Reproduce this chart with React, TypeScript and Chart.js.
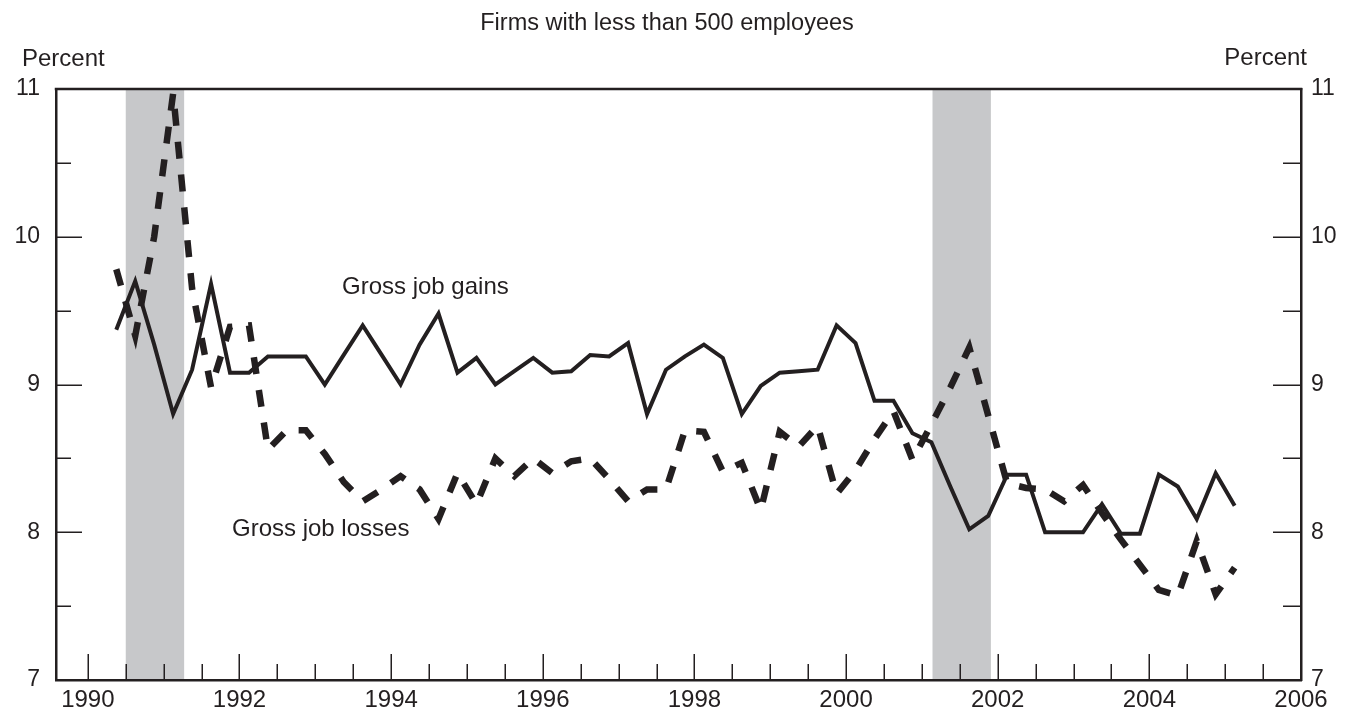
import React, { useEffect, useRef } from 'react';
import { Chart, registerables } from 'chart.js';

Chart.register(...registerables);

// ---------- data ----------
const quarters: string[] = [
  '1990Q2', '1990Q3', '1990Q4',
  '1991Q1', '1991Q2', '1991Q3', '1991Q4',
  '1992Q1', '1992Q2', '1992Q3', '1992Q4',
  '1993Q1', '1993Q2', '1993Q3', '1993Q4',
  '1994Q1', '1994Q2', '1994Q3', '1994Q4',
  '1995Q1', '1995Q2', '1995Q3', '1995Q4',
  '1996Q1', '1996Q2', '1996Q3', '1996Q4',
  '1997Q1', '1997Q2', '1997Q3', '1997Q4',
  '1998Q1', '1998Q2', '1998Q3', '1998Q4',
  '1999Q1', '1999Q2', '1999Q3', '1999Q4',
  '2000Q1', '2000Q2', '2000Q3', '2000Q4',
  '2001Q1', '2001Q2', '2001Q3', '2001Q4',
  '2002Q1', '2002Q2', '2002Q3', '2002Q4',
  '2003Q1', '2003Q2', '2003Q3', '2003Q4',
  '2004Q1', '2004Q2', '2004Q3', '2004Q4',
  '2005Q1',
];

const grossJobGains: number[] = [
  9.37, 9.70, 9.27,
  8.80, 9.10, 9.68, 9.08,
  9.08, 9.19, 9.19, 9.19,
  9.00, 9.20, 9.40, 9.20,
  9.00, 9.27, 9.48, 9.08,
  9.18, 9.00, 9.09, 9.18,
  9.08, 9.09, 9.20, 9.19,
  9.28, 8.80, 9.10, 9.19,
  9.27, 9.18, 8.80, 8.99,
  9.08, 9.09, 9.10, 9.40,
  9.28, 8.89, 8.89, 8.67,
  8.61, 8.31, 8.02, 8.11,
  8.39, 8.39, 8.00, 8.00,
  8.00, 8.19, 7.99, 7.99,
  8.39, 8.31, 8.09, 8.40,
  8.18,
];

const grossJobLosses: number[] = [
  9.78, 9.33, 10.00,
  10.97, 9.65, 8.98, 9.39,
  9.40, 8.56, 8.69, 8.69,
  8.53, 8.34, 8.21, 8.29,
  8.38, 8.29, 8.09, 8.40,
  8.19, 8.50, 8.38, 8.50,
  8.40, 8.48, 8.50, 8.36,
  8.21, 8.29, 8.29, 8.69,
  8.68, 8.41, 8.47, 8.15,
  8.68, 8.58, 8.72, 8.26,
  8.42, 8.63, 8.82, 8.49,
  8.73, 8.98, 9.25, 8.79,
  8.33, 8.30, 8.29, 8.21,
  8.32, 8.13, 7.95, 7.78,
  7.61, 7.57, 7.94, 7.58,
  7.76,
];

const xTickLabels: number[] = [1990, 1992, 1994, 1996, 1998, 2000, 2002, 2004, 2006];
const yTickLabels: number[] = [7, 8, 9, 10, 11];
const recessionStarts: number[] = [1990.5, 2001.14];
const recessionEnds: number[] = [1991.27, 2001.91];

// ---------- style ----------
const INK = '#231f20';
const BAND = '#c7c8ca';
const FONT = "'Liberation Sans', Arial, Helvetica, sans-serif";

const quarterToYear = (q: string): number => {
  const year = parseInt(q.slice(0, 4), 10);
  const n = parseInt(q.slice(5), 10);
  return year + (n - 1) / 4 + 0.125;
};

const decorPlugin = {
  id: 'decor',
  beforeDraw(chart: any) {
    const { ctx, chartArea: a, scales } = chart;
    const xs = scales.x;
    const ys = scales.y;
    ctx.save();
    // recession shading
    ctx.fillStyle = BAND;
    recessionStarts.forEach((s, i) => {
      const x0 = xs.getPixelForValue(s);
      const x1 = xs.getPixelForValue(recessionEnds[i]);
      ctx.fillRect(x0, a.top, x1 - x0, a.bottom - a.top);
    });
    // tick marks drawn inside the plot
    ctx.strokeStyle = INK;
    ctx.lineWidth = 1.5;
    ctx.beginPath();
    for (let t = 1990; t <= 2006; t += 0.5) {
      const px = Math.round(xs.getPixelForValue(t)) + 0.25;
      const len = t % 2 === 0 ? 26 : 16;
      ctx.moveTo(px, a.bottom);
      ctx.lineTo(px, a.bottom - len);
    }
    for (let v = 7.5; v <= 10.5; v += 0.5) {
      const py = Math.round(ys.getPixelForValue(v)) + 0.25;
      const major = Number.isInteger(v);
      ctx.moveTo(a.left, py);
      ctx.lineTo(a.left + (major ? 26 : 15), py);
      ctx.moveTo(a.right, py);
      ctx.lineTo(a.right - (major ? 28 : 18), py);
    }
    ctx.stroke();
    // top frame line
    ctx.lineWidth = 2.5;
    ctx.beginPath();
    ctx.moveTo(a.left - 1.25, a.top);
    ctx.lineTo(a.right + 1.25, a.top);
    ctx.stroke();
    ctx.restore();
  },
  afterDraw(chart: any) {
    const { ctx } = chart;
    ctx.save();
    ctx.fillStyle = INK;
    ctx.textBaseline = 'alphabetic';
    ctx.font = `23.5px ${FONT}`;
    ctx.textAlign = 'center';
    ctx.fillText('Firms with less than 500 employees', 667, 30);
    ctx.font = `24px ${FONT}`;
    ctx.textAlign = 'left';
    ctx.fillText('Percent', 22, 66);
    ctx.textAlign = 'right';
    ctx.fillText('Percent', 1307, 65);
    ctx.textAlign = 'left';
    ctx.fillText('Gross job gains', 342, 294);
    ctx.fillText('Gross job losses', 232, 536);
    ctx.restore();
  },
};

export default function App() {
  const canvasRef = useRef<HTMLCanvasElement | null>(null);

  useEffect(() => {
    const canvas = canvasRef.current;
    if (!canvas) return;
    const xs = quarters.map(quarterToYear);
    const chart = new Chart(canvas, {
      type: 'line',
      data: {
        datasets: [
          {
            label: 'Gross job gains',
            data: xs.map((x, i) => ({ x, y: grossJobGains[i] })),
            borderColor: INK,
            borderWidth: 4,
            borderJoinStyle: 'miter',
            pointRadius: 0,
            tension: 0,
            fill: false,
          },
          {
            label: 'Gross job losses',
            data: xs.map((x, i) => ({ x, y: grossJobLosses[i] })),
            borderColor: INK,
            borderWidth: 6.5,
            borderDash: [17, 16],
            borderCapStyle: 'butt',
            borderJoinStyle: 'miter',
            pointRadius: 0,
            tension: 0,
            fill: false,
          },
        ],
      },
      options: {
        responsive: false,
        animation: false,
        devicePixelRatio: 1,
        layout: { padding: { top: 89, left: 0, right: 0, bottom: 0 } },
        plugins: {
          legend: { display: false },
          tooltip: { enabled: false },
          title: { display: false },
        },
        scales: {
          x: {
            type: 'linear',
            position: 'bottom',
            min: 1989.58,
            max: 2006,
            grid: { display: false, drawTicks: false },
            border: { display: true, color: INK, width: 2.5 },
            ticks: {
              autoSkip: false,
              maxRotation: 0,
              padding: 6,
              color: INK,
              font: { family: FONT, size: 24 },
              callback: (v: any) => String(v),
            },
            afterBuildTicks: (scale: any) => {
              scale.ticks = xTickLabels.map((v) => ({ value: v }));
            },
            afterFit: (scale: any) => {
              scale.height = 39;
            },
          },
          y: {
            type: 'linear',
            position: 'left',
            min: 7,
            max: 11,
            grid: { display: false, drawTicks: false },
            border: { display: true, color: INK, width: 2.5 },
            ticks: {
              padding: 16,
              color: INK,
              font: { family: FONT, size: 23 },
              callback: (v: any) => String(v),
            },
            afterBuildTicks: (scale: any) => {
              scale.ticks = yTickLabels.map((v) => ({ value: v }));
            },
            afterFit: (scale: any) => {
              scale.width = 56;
            },
          },
          y2: {
            type: 'linear',
            position: 'right',
            min: 7,
            max: 11,
            grid: { display: false, drawTicks: false },
            border: { display: true, color: INK, width: 2.5 },
            ticks: {
              padding: 10,
              color: INK,
              font: { family: FONT, size: 23 },
              callback: (v: any) => String(v),
            },
            afterBuildTicks: (scale: any) => {
              scale.ticks = yTickLabels.map((v) => ({ value: v }));
            },
            afterFit: (scale: any) => {
              scale.width = 48;
            },
          },
        },
      },
      plugins: [decorPlugin],
    } as any);
    return () => chart.destroy();
  }, []);

  return (
    <div style={{ position: 'absolute', left: 0, top: 0, width: 1349, height: 719, background: '#fff' }}>
      <canvas ref={canvasRef} width={1349} height={719} style={{ display: 'block' }} />
    </div>
  );
}
